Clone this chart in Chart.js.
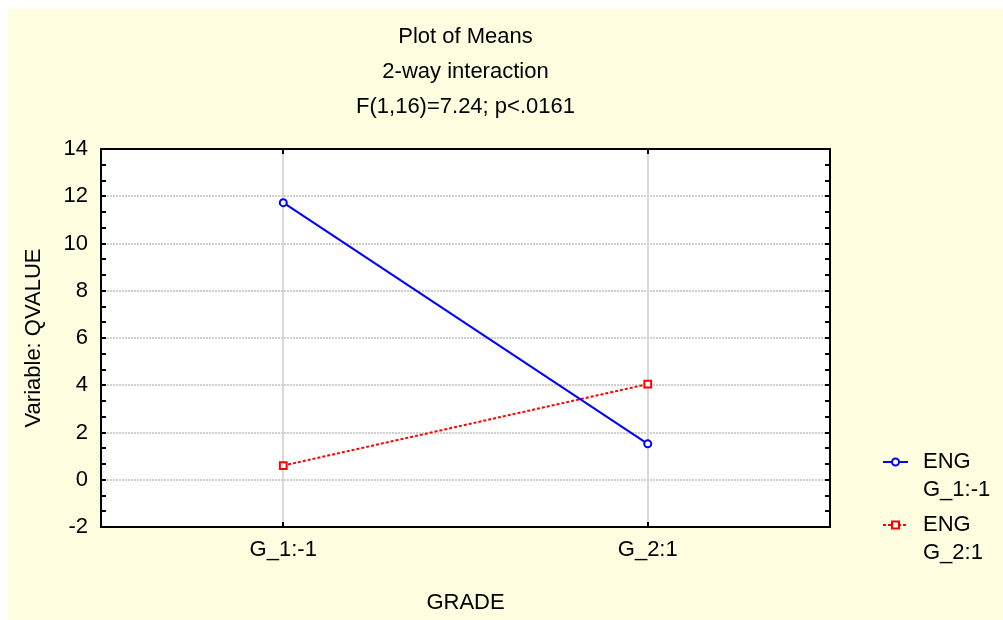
<!DOCTYPE html>
<html lang="en">
<head>
  <meta charset="UTF-8" />
  <title>Plot of Means</title>
  <script src="https://cdn.jsdelivr.net/npm/chart.js"></script>
  <style>
    body {
      margin: 0;
      background: #fff;
    }
    #wrap {
      width: 1003px;
      height: 620px;
    }
  </style>
</head>
<body>
  <div id="wrap">
    <canvas id="meansChart" width="1003" height="620"></canvas>
  </div>

  <script>
    // data
    const grades = ['G_1:-1', 'G_2:1'];
    const engG1 = [11.73, 1.52];
    const engG2 = [0.6, 4.05];
    const seriesNames = [['ENG', 'G_1:-1'], ['ENG', 'G_2:1']];
    const titleLines = ['Plot of Means', '2-way interaction', 'F(1,16)=7.24; p<.0161'];

    const FONT = 'Liberation Sans, Arial, sans-serif';
    const baseFont = { family: FONT, size: 22, weight: 'normal' };

    // cream page, white plot area, frame with inward ticks, legend
    const statPlugin = {
      id: 'statLook',
      beforeDraw(chart) {
        const ctx = chart.ctx;
        const a = chart.chartArea;
        ctx.save();
        ctx.fillStyle = '#ffffff';
        ctx.fillRect(0, 0, chart.width, chart.height);
        ctx.fillStyle = '#fffde0';
        ctx.fillRect(8, 9, chart.width - 8, chart.height - 9);
        ctx.fillStyle = '#ffffff';
        ctx.fillRect(a.left, a.top, a.right - a.left, a.bottom - a.top);
        ctx.restore();
      },
      afterDraw(chart) {
        const ctx = chart.ctx;
        const a = chart.chartArea;
        const ys = chart.scales.y;
        const xs = chart.scales.x;
        ctx.save();
        ctx.strokeStyle = '#000';
        ctx.lineWidth = 2;
        ctx.strokeRect(a.left, a.top, a.right - a.left, a.bottom - a.top);

        // minor ticks: three per major step, both sides
        ctx.beginPath();
        const step = 2 / 3;
        for (let k = 0; ys.min + k * step <= ys.max + 1e-6; k++) {
          const py = Math.round(ys.getPixelForValue(ys.min + k * step));
          ctx.moveTo(a.left, py);
          ctx.lineTo(a.left + 5, py);
          ctx.moveTo(a.right, py);
          ctx.lineTo(a.right - 5, py);
        }
        grades.forEach((g, i) => {
          const px = Math.round(xs.getPixelForValue(i));
          ctx.moveTo(px, a.top);
          ctx.lineTo(px, a.top + 5);
          ctx.moveTo(px, a.bottom);
          ctx.lineTo(px, a.bottom - 5);
        });
        ctx.stroke();

        // legend
        ctx.font = '22px ' + FONT;
        ctx.textBaseline = 'middle';
        ctx.textAlign = 'left';
        chart.data.datasets.forEach((ds, i) => {
          const cy = a.bottom - 65 + i * 63;
          const x0 = a.right + 53;
          const x1 = a.right + 78;
          const cx = (x0 + x1) / 2;
          ctx.strokeStyle = ds.borderColor;
          ctx.lineWidth = 2;
          ctx.setLineDash(ds.borderDash || []);
          ctx.beginPath();
          ctx.moveTo(x0, cy);
          ctx.lineTo(x1, cy);
          ctx.stroke();
          ctx.setLineDash([]);
          ctx.fillStyle = '#fff';
          ctx.beginPath();
          if (ds.pointStyle === 'rect') {
            ctx.rect(cx - 3.5, cy - 3.5, 7, 7);
          } else {
            ctx.arc(cx, cy, 3.5, 0, Math.PI * 2);
          }
          ctx.fill();
          ctx.stroke();
          ctx.fillStyle = '#000';
          seriesNames[i].forEach((t, j) => {
            ctx.fillText(t, a.right + 93, cy + j * 28);
          });
        });
        ctx.restore();
      }
    };

    const ctx = document.getElementById('meansChart').getContext('2d');
    const meansChart = new Chart(ctx, {
      type: 'line',
      data: {
        labels: grades,
        datasets: [
          {
            label: seriesNames[0].join(' '),
            data: engG1,
            borderColor: '#0000ff',
            borderWidth: 2,
            pointStyle: 'circle',
            pointRadius: 3.5,
            pointBorderWidth: 2,
            pointBackgroundColor: '#fff',
            pointBorderColor: '#0000ff',
            tension: 0
          },
          {
            label: seriesNames[1].join(' '),
            data: engG2,
            borderColor: '#ff0000',
            borderWidth: 2,
            borderDash: [3, 2],
            pointStyle: 'rect',
            pointRadius: 4.8,
            pointBorderWidth: 2,
            pointBackgroundColor: '#fff',
            pointBorderColor: '#ff0000',
            tension: 0
          }
        ]
      },
      options: {
        responsive: false,
        animation: false,
        layout: { padding: { left: 0, top: 0, right: 173, bottom: 0 } },
        plugins: {
          legend: { display: false },
          tooltip: { enabled: false },
          title: {
            display: true,
            fullSize: false,
            text: titleLines,
            color: '#000',
            font: { family: FONT, size: 22, weight: 'normal', lineHeight: 35 / 22 },
            padding: { top: 19, bottom: 25 }
          }
        },
        scales: {
          x: {
            type: 'category',
            offset: true,
            ticks: { color: '#000', font: baseFont, padding: 10 },
            grid: { color: '#d9d9d9', lineWidth: 2, drawTicks: false },
            border: { display: false },
            title: {
              display: true,
              text: 'GRADE',
              color: '#000',
              font: baseFont,
              padding: { top: 0, bottom: 4 }
            },
            afterFit: s => { s.height = 93; }
          },
          y: {
            min: -2,
            max: 14,
            ticks: { stepSize: 2, color: '#000', font: baseFont, padding: 13 },
            grid: { color: '#cfcfcf', lineWidth: 2, drawTicks: false },
            border: { display: false, dash: [2, 1] },
            title: {
              display: true,
              text: 'Variable: QVALUE',
              color: '#000',
              font: baseFont,
              padding: { top: 21, bottom: 0 }
            },
            afterFit: s => { s.width = 101; }
          }
        }
      },
      plugins: [statPlugin]
    });
  </script>
</body>
</html>
